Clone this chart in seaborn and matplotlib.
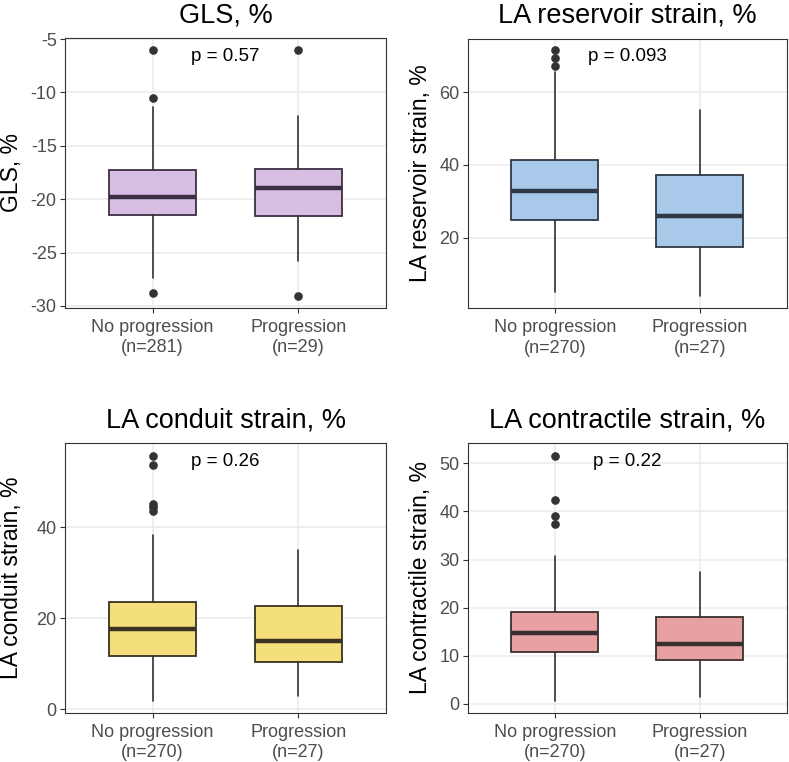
import matplotlib
matplotlib.use("Agg")
import matplotlib.pyplot as plt
import seaborn as sns

# ==============================
# Data
# ==============================

groups = ["No progression", "Progression"]

gls_n = [281, 29]
gls_whislo = [-27.4, -25.8]
gls_q1 = [-21.5, -21.6]
gls_med = [-19.8, -19.0]
gls_q3 = [-17.3, -17.15]
gls_whishi = [-11.4, -12.25]
gls_fliers = [[-6.05, -10.55, -28.8], [-6.05, -29.05]]

res_n = [270, 27]
res_whislo = [5.1, 4.0]
res_q1 = [24.8, 17.3]
res_med = [32.8, 26.0]
res_q3 = [41.4, 37.1]
res_whishi = [65.7, 55.0]
res_fliers = [[71.5, 69.5, 67.2], []]

con_n = [270, 27]
con_whislo = [1.8, 2.9]
con_q1 = [11.6, 10.4]
con_med = [17.7, 14.9]
con_q3 = [23.6, 22.6]
con_whishi = [38.2, 35.0]
con_fliers = [[55.7, 53.6, 45.0, 44.3, 43.5], []]

ctr_n = [270, 27]
ctr_whislo = [0.5, 1.3]
ctr_q1 = [10.8, 9.0]
ctr_med = [14.6, 12.5]
ctr_q3 = [19.1, 18.1]
ctr_whishi = [30.7, 27.5]
ctr_fliers = [[51.6, 42.4, 39.1, 37.4], []]

titles = ["GLS, %", "LA reservoir strain, %", "LA conduit strain, %", "LA contractile strain, %"]
ylabels = ["GLS, %", "LA reservoir strain, %", "LA conduit strain, %", "LA contractile strain, %"]
pvals = ["p = 0.57", "p = 0.093", "p = 0.26", "p = 0.22"]
fills = ["#D8BEE2", "#A9C9EA", "#F5DE7C", "#E7A1A3"]
edges = ["#3B2E42", "#2E3846", "#3A3222", "#3A2F2F"]
yticks = [[-30, -25, -20, -15, -10, -5], [20, 40, 60], [0, 20, 40], [0, 10, 20, 30, 40, 50]]
ylims = [(-30.2, -4.9), (0.55, 74.8), (-0.8, 58.4), (-1.9, 54.2)]

# ==============================
# Style
# ==============================

sns.set_theme(style="whitegrid")
plt.rcParams['font.family'] = ['Liberation Sans', 'DejaVu Sans']
plt.rcParams['axes.unicode_minus'] = False
plt.rcParams['axes.edgecolor'] = '#333333'
plt.rcParams['axes.linewidth'] = 0.8
plt.rcParams['grid.color'] = '#EBEBEB'
plt.rcParams['grid.linewidth'] = 1.1


def make_stats(n, lo, q1, med, q3, hi, fl):
    out = []
    for i in range(len(groups)):
        out.append(dict(label=f"{groups[i]}\n(n={n[i]})", whislo=lo[i], q1=q1[i], med=med[i],
                        q3=q3[i], whishi=hi[i], fliers=fl[i]))
    return out


all_stats = [
    make_stats(gls_n, gls_whislo, gls_q1, gls_med, gls_q3, gls_whishi, gls_fliers),
    make_stats(res_n, res_whislo, res_q1, res_med, res_q3, res_whishi, res_fliers),
    make_stats(con_n, con_whislo, con_q1, con_med, con_q3, con_whishi, con_fliers),
    make_stats(ctr_n, ctr_whislo, ctr_q1, ctr_med, ctr_q3, ctr_whishi, ctr_fliers),
]

fig = plt.figure(figsize=(7.89, 7.62), dpi=100)
W, H = 789.0, 762.0
# panel boxes in pixels: left, top, right, bottom
panels = [(65, 38, 386, 308), (467.7, 38.5, 787, 308.3),
          (65, 443.3, 386, 712.7), (467.7, 443.3, 787, 712.7)]
label_x = [-0.131, -0.113, -0.131, -0.113]

for k, (l, t, r, b) in enumerate(panels):
    ax = fig.add_axes([l / W, 1 - b / H, (r - l) / W, (b - t) / H])
    ax.bxp(all_stats[k], positions=[1, 2], widths=0.6, showcaps=False, patch_artist=True,
           boxprops=dict(facecolor=fills[k], edgecolor=edges[k], linewidth=1.3),
           medianprops=dict(color=edges[k], linewidth=3.2, solid_capstyle='butt'),
           whiskerprops=dict(color='#333333', linewidth=1.2),
           flierprops=dict(marker='o', markerfacecolor='#333333', markeredgecolor='#333333',
                           markersize=5.2))
    ax.set_xlim(0.4, 2.6)
    ax.set_ylim(*ylims[k])
    ax.set_yticks(yticks[k])
    ax.grid(True, color='#EBEBEB', linewidth=1.1)
    ax.set_axisbelow(True)
    for s in ax.spines.values():
        s.set_color('#333333')
        s.set_linewidth(0.8)
    ax.tick_params(axis='both', which='both', length=3.5, width=0.8, color='#333333',
                   labelsize=13, labelcolor='#4D4D4D', pad=2.5, left=True, bottom=True)
    ax.tick_params(axis='x', pad=4.5)
    for lab in ax.get_xticklabels():
        lab.set_linespacing(1.25)
    ax.set_title(titles[k], fontsize=19.5, pad=11.5, color='black')
    ax.set_ylabel(ylabels[k], fontsize=16.5, color='black')
    ax.yaxis.set_label_coords(label_x[k], 0.5)
    ax.text(0.5, 0.932, pvals[k], transform=ax.transAxes, ha='center', va='center',
            fontsize=13.5, color='black')

fig.savefig("out.png", dpi=100)
